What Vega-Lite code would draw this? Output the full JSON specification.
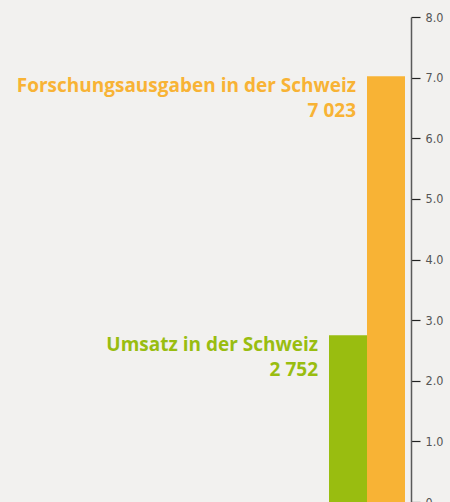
{
  "$schema": "https://vega.github.io/schema/vega-lite/v6.json",
  "autosize": {"type": "none"},
  "width": 82,
  "height": 485,
  "padding": {"left": 329, "top": 17, "right": 39, "bottom": 0},
  "background": "#f2f1ef",
  "config": {"view": {"stroke": null}},
  "data": {
    "values": [
      {"kategorie": "Umsatz in der Schweiz", "wert": 2.752, "zahl": "2 752"},
      {"kategorie": "Forschungsausgaben in der Schweiz", "wert": 7.023, "zahl": "7 023"}
    ]
  },
  "encoding": {
    "x": {
      "field": "kategorie",
      "type": "nominal",
      "sort": ["Umsatz in der Schweiz", "Forschungsausgaben in der Schweiz"],
      "scale": {"paddingInner": 0, "paddingOuter": 0.079, "align": 0},
      "axis": null
    },
    "y": {
      "field": "wert",
      "type": "quantitative",
      "scale": {"domain": [0, 8], "nice": false, "zero": true},
      "axis": {
        "orient": "right",
        "title": null,
        "grid": false,
        "values": [0, 1, 2, 3, 4, 5, 6, 7, 8],
        "labelExpr": "datum.value == 0 ? '0' : format(datum.value, '.1f')",
        "domainColor": "#5a5a5a",
        "domainWidth": 1.5,
        "tickColor": "#222222",
        "tickWidth": 1.2,
        "tickSize": 9,
        "labelPadding": 5,
        "labelFont": "DejaVu Sans Condensed",
        "labelFontSize": 12.5,
        "labelColor": "#555555",
        "labelBaseline": "middle"
      }
    },
    "color": {
      "field": "kategorie",
      "type": "nominal",
      "scale": {
        "domain": ["Umsatz in der Schweiz", "Forschungsausgaben in der Schweiz"],
        "range": ["#99bd10", "#f8b335"]
      },
      "legend": null
    }
  },
  "layer": [
    {"mark": {"type": "bar", "clip": false}},
    {
      "mark": {"type": "text", "align": "right", "baseline": "alphabetic", "dx": -11, "dy": 16, "font": "Open Sans", "fontWeight": "bold", "fontSize": 19},
      "encoding": {
        "x": {"field": "kategorie", "type": "nominal", "sort": ["Umsatz in der Schweiz", "Forschungsausgaben in der Schweiz"], "bandPosition": 0},
        "text": {"field": "kategorie"}
      }
    },
    {
      "mark": {"type": "text", "align": "right", "baseline": "alphabetic", "dx": -11, "dy": 41, "font": "Open Sans", "fontWeight": "bold", "fontSize": 19},
      "encoding": {
        "x": {"field": "kategorie", "type": "nominal", "sort": ["Umsatz in der Schweiz", "Forschungsausgaben in der Schweiz"], "bandPosition": 0},
        "text": {"field": "zahl"}
      }
    }
  ]
}
